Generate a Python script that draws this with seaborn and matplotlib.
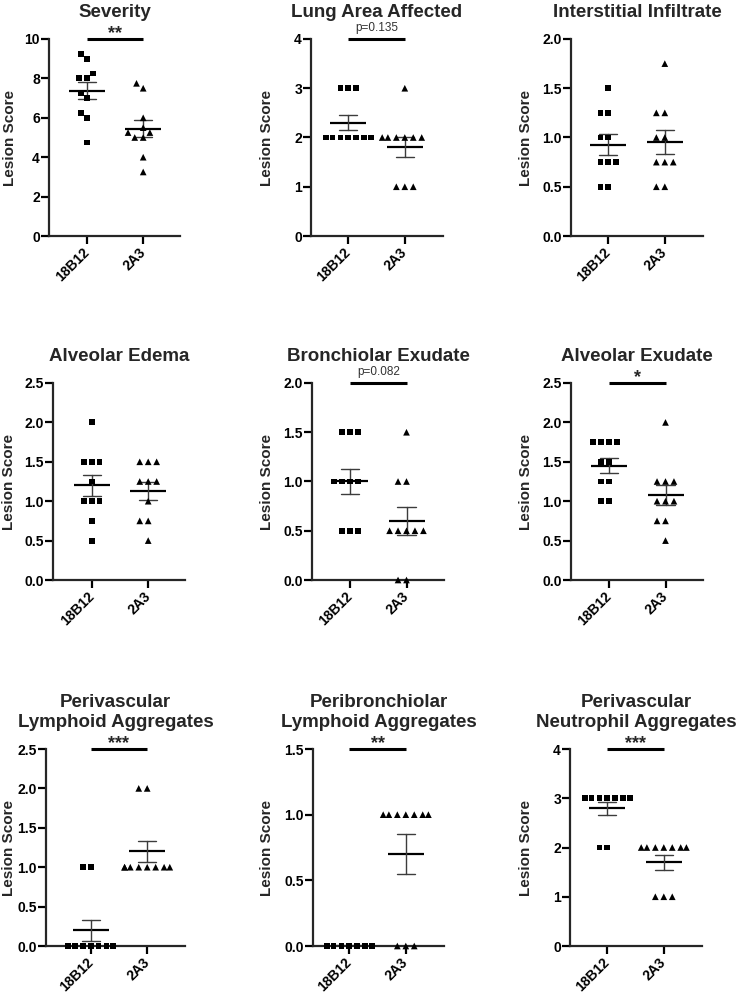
import numpy as np
import pandas as pd
import matplotlib
matplotlib.use('Agg')
import matplotlib.pyplot as plt
from matplotlib.ticker import FormatStrFormatter
import seaborn as sns

groups = ['18B12', '2A3']

titles = ['Severity', 'Lung Area Affected', 'Interstitial Infiltrate',
          'Alveolar Edema', 'Bronchiolar Exudate', 'Alveolar Exudate',
          'Perivascular\nLymphoid Aggregates',
          'Peribronchiolar\nLymphoid Aggregates',
          'Perivascular\nNeutrophil Aggregates']

# lesion scores per animal, 10 per group
severity_18b12 = [9.25, 9.0, 8.25, 8.0, 8.0, 7.25, 7.0, 6.25, 6.0, 4.75]
severity_2a3 = [7.75, 7.5, 6.0, 5.5, 5.25, 5.25, 5.0, 5.0, 4.0, 3.25]
lung_area_18b12 = [3, 3, 3, 2, 2, 2, 2, 2, 2, 2]
lung_area_2a3 = [3, 2, 2, 2, 2, 2, 2, 1, 1, 1]
interstitial_18b12 = [1.5, 1.25, 1.25, 1.0, 1.0, 0.75, 0.75, 0.75, 0.5, 0.5]
interstitial_2a3 = [1.75, 1.25, 1.25, 1.0, 1.0, 0.75, 0.75, 0.75, 0.5, 0.5]
edema_18b12 = [2.0, 1.5, 1.5, 1.5, 1.25, 1.0, 1.0, 1.0, 0.75, 0.5]
edema_2a3 = [1.5, 1.5, 1.5, 1.25, 1.25, 1.25, 1.0, 0.75, 0.75, 0.5]
bronch_exudate_18b12 = [1.5, 1.5, 1.5, 1.0, 1.0, 1.0, 1.0, 0.5, 0.5, 0.5]
bronch_exudate_2a3 = [1.5, 1.0, 1.0, 0.5, 0.5, 0.5, 0.5, 0.5, 0.0, 0.0]
alv_exudate_18b12 = [1.75, 1.75, 1.75, 1.75, 1.5, 1.5, 1.25, 1.25, 1.0, 1.0]
alv_exudate_2a3 = [2.0, 1.25, 1.25, 1.25, 1.0, 1.0, 1.0, 0.75, 0.75, 0.5]
pv_lymphoid_18b12 = [1, 1, 0, 0, 0, 0, 0, 0, 0, 0]
pv_lymphoid_2a3 = [2, 2, 1, 1, 1, 1, 1, 1, 1, 1]
pb_lymphoid_18b12 = [0, 0, 0, 0, 0, 0, 0, 0, 0, 0]
pb_lymphoid_2a3 = [1, 1, 1, 1, 1, 1, 1, 0, 0, 0]
pv_neutrophil_18b12 = [3, 3, 3, 3, 3, 3, 3, 3, 2, 2]
pv_neutrophil_2a3 = [2, 2, 2, 2, 2, 2, 2, 1, 1, 1]

panel_data = [
    (severity_18b12, severity_2a3),
    (lung_area_18b12, lung_area_2a3),
    (interstitial_18b12, interstitial_2a3),
    (edema_18b12, edema_2a3),
    (bronch_exudate_18b12, bronch_exudate_2a3),
    (alv_exudate_18b12, alv_exudate_2a3),
    (pv_lymphoid_18b12, pv_lymphoid_2a3),
    (pb_lymphoid_18b12, pb_lymphoid_2a3),
    (pv_neutrophil_18b12, pv_neutrophil_2a3),
]

y_max = [10, 4, 2, 2.5, 2, 2.5, 2.5, 1.5, 4]
y_step = [2, 1, 0.5, 0.5, 0.5, 0.5, 0.5, 0.5, 1]
sig_labels = ['**', 'p=0.135', None, None, 'p=0.082', '*', '***', '**', '***']

# axes boxes in pixels: left, right, top, bottom, x of first category, x of y label
W, H = 738, 996
boxes = [
    (49, 180, 39, 236, 86.7, 9),
    (311, 443, 39, 236, 348.3, 266),
    (571, 703, 39, 236, 608.3, 525),
    (53, 185, 383, 580, 91.7, 8),
    (312, 444, 383, 580, 350.0, 266),
    (571, 703, 383, 580, 609.0, 525),
    (46, 185, 749, 946, 90.7, 8),
    (313, 444, 749, 946, 349.3, 266),
    (570, 702, 749, 946, 607.3, 525),
]
CAT_PX = 56.5

sns.set_style('ticks')
plt.rcParams['font.family'] = ['Liberation Sans', 'DejaVu Sans']
plt.rcParams['font.weight'] = 'bold'

fig = plt.figure(figsize=(W / 100, H / 100), dpi=100)

for i in range(9):
    l, r, t, b, c0, lab_x = boxes[i]
    ax = fig.add_axes([l / W, 1 - b / H, (r - l) / W, (b - t) / H])
    a_vals, b_vals = panel_data[i]
    df = pd.DataFrame({'group': [groups[0]] * len(a_vals) + [groups[1]] * len(b_vals),
                       'score': list(a_vals) + list(b_vals)})

    # invisible edge widens the swarm spacing a little
    sns.swarmplot(data=df[df['group'] == groups[0]], x='group', y='score',
                  order=groups, marker='s', size=4.2, color='black',
                  edgecolor='none', linewidth=1.2, warn_thresh=1, ax=ax)
    sns.swarmplot(data=df[df['group'] == groups[1]], x='group', y='score',
                  order=groups, marker='^', size=4.8, color='black',
                  edgecolor='none', linewidth=1.0, warn_thresh=1, ax=ax)
    sns.pointplot(data=df, x='group', y='score', order=groups,
                  errorbar='se', capsize=0.32, color='black',
                  marker='_', markersize=26, markeredgewidth=1.6,
                  linestyle='none',
                  err_kws={'linewidth': 1.0, 'color': '#3c3c3c'}, ax=ax)
    # let points sitting on the x axis show fully (skip empty collections)
    for c in ax.collections:
        if len(c.get_offsets()) > 0:
            c.set_clip_on(False)

    ymax, step = y_max[i], y_step[i]
    ax.set_ylim(0, ymax)
    ax.set_xlim((l - c0) / CAT_PX, (r - c0) / CAT_PX)
    ax.set_yticks(np.arange(0, ymax + step / 2, step))
    ax.yaxis.set_major_formatter(FormatStrFormatter('%.1f' if step < 1 else '%d'))

    sns.despine(ax=ax)
    for s in ['left', 'bottom']:
        ax.spines[s].set_linewidth(1.6)
    ax.tick_params(width=1.6, length=5.5, labelsize=10, colors='black')
    ax.tick_params(axis='y', pad=1)
    ax.tick_params(axis='x', pad=5)
    plt.setp(ax.get_xticklabels(), rotation=45, ha='right', va='center',
             rotation_mode='anchor', fontweight='bold')
    plt.setp(ax.get_yticklabels(), fontweight='bold')

    ax.set_xlabel('')
    ax.set_ylabel('Lesion Score', fontsize=11, fontweight='bold', va='center')
    ax.yaxis.set_label_coords((lab_x + 1 - l) / (r - l), 0.5)
    ax.set_title(titles[i], fontsize=13.5, fontweight='bold', pad=16,
                 linespacing=1.2)

    lab = sig_labels[i]
    if lab is not None:
        ax.plot([0, 1], [ymax, ymax], color='black', lw=2.2,
                solid_capstyle='butt', clip_on=False)
        if lab.startswith('p'):
            ax.annotate(lab, xy=(0.5, ymax), xytext=(0, 5.5),
                        textcoords='offset points', ha='center',
                        va='baseline', fontsize=8.5, fontweight='normal',
                        color='#333333')
        else:
            ax.annotate(lab, xy=(0.5, ymax), xytext=(0, 0.5),
                        textcoords='offset points', ha='center',
                        va='baseline', fontsize=13, fontweight='bold')

fig.savefig('out.png', dpi=100)
